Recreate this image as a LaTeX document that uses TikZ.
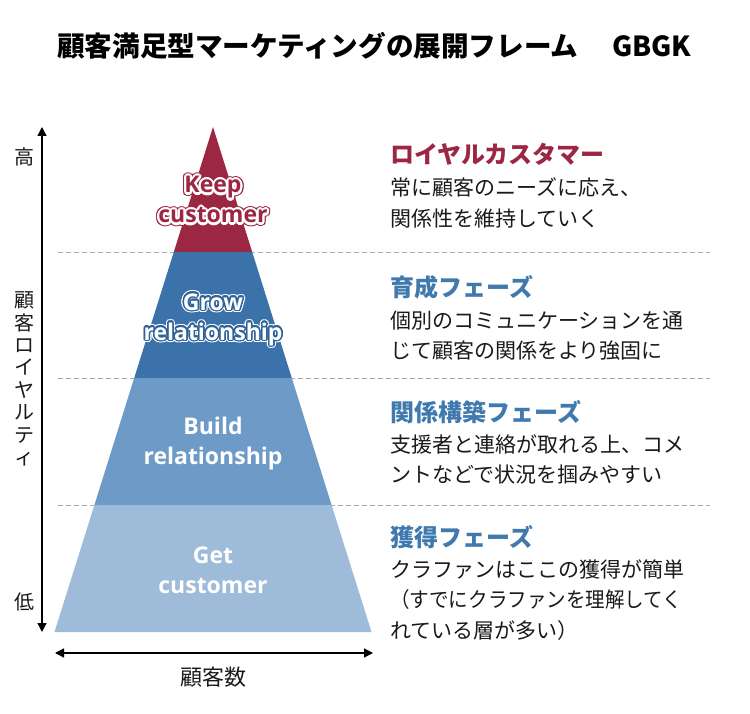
\documentclass[tikz,border=0pt]{standalone}
\usepackage{fontspec}
\setmainfont{Noto Sans CJK JP}
\newfontfamily\latfont{Open Sans}
\usetikzlibrary{arrows.meta}
\definecolor{kred}{HTML}{9C2743}
\definecolor{growblue}{HTML}{3B72AA}
\definecolor{growline}{HTML}{2F6299}
\definecolor{buildblue}{HTML}{6E9AC7}
\definecolor{getblue}{HTML}{9EBBD9}
\definecolor{headblue}{HTML}{3F79AD}
\definecolor{dashgray}{HTML}{ABABAB}
\definecolor{bodyblack}{HTML}{1A1A1A}
\tikzset{
  sepline/.style={draw=dashgray,line width=0.9pt,dash pattern=on 5pt off 3pt},
  axisline/.style={line width=1.3pt,{Triangle[length=9pt,width=9pt]}-{Triangle[length=9pt,width=9pt]}},
  plbl/.style={font=\latfont\bfseries\fontsize{23}{30}\selectfont,align=center,anchor=base,inner sep=0pt},
  headtxt/.style={font=\bfseries\fontsize{24}{30}\selectfont,anchor=base west,inner sep=0pt},
  bodytxt/.style={font=\fontsize{21}{30.5}\selectfont,align=left,anchor=base west,inner sep=0pt,text=bodyblack},
  sidetxt/.style={font=\fontsize{20}{22.4}\selectfont,align=center,inner sep=0pt,text=bodyblack},
  titletxt/.style={font=\bfseries\fontsize{27.6}{30}\selectfont,anchor=base west,inner sep=0pt},
}
\begin{document}
\begin{tikzpicture}[x=1pt,y=-1pt]
\useasboundingbox[fill=white] (0,0) rectangle (750,714);

% title
\node[titletxt] (title) at (57,57) {顧客満足型マーケティングの展開フレーム};
\node[titletxt] (gbgk) at (612,57) {GBGK};

% dashed separators
\draw[sepline] (58,252) -- (710,252);
\draw[sepline] (58,378) -- (710,378);
\draw[sepline] (58,505) -- (710,505);

% pyramid layers
\coordinate (apex) at (213,127);
\fill[kred] (apex) -- (252.2,252) -- (173.8,252) -- cycle;
\fill[growblue] (173.8,252) -- (252.2,252) -- (291.8,378) -- (134.2,378) -- cycle;
\fill[buildblue] (134.2,378) -- (291.8,378) -- (331.6,505) -- (94.4,505) -- cycle;
\fill[getblue] (94.4,505) -- (331.6,505) -- (371.5,632) -- (54.5,632) -- cycle;

% Keep customer (red text, white outline, red outer outline)
\foreach \a in {0,20,...,340}{
  \node[plbl,text=kred,shift={(\a:3.3pt)}] (ko\a) at (213,223) {Keep\\customer};
}
\foreach \a in {0,20,...,340}{
  \node[plbl,text=white,shift={(\a:2.1pt)}] (kw\a) at (213,223) {Keep\\customer};
  \node[plbl,text=white,shift={(\a:1.1pt)}] (kv\a) at (213,223) {Keep\\customer};
}
\node[plbl,text=kred] (keep) at (213,223) {Keep\\customer};

% Grow relationship (white text, blue outline, white outer outline)
\foreach \a in {0,20,...,340}{
  \node[plbl,text=white,shift={(\a:2.8pt)}] (go\a) at (213,340) {Grow\\relationship};
}
\foreach \a in {0,20,...,340}{
  \node[plbl,text=growline,shift={(\a:1.5pt)}] (gb\a) at (213,340) {Grow\\relationship};
}
\node[plbl,text=white] (grow) at (213,340) {Grow\\relationship};

\node[plbl,text=white] (build) at (213,464) {Build\\relationship};
\node[plbl,text=white] (get) at (213,593) {Get\\customer};

% axes
\coordinate (vtop) at (42,127);
\coordinate (vbot) at (42,632);
\draw[axisline] (vtop) -- (vbot);
\coordinate (hl) at (55,653);
\coordinate (hr) at (373,653);
\draw[axisline] (hl) -- (hr);

\node[sidetxt] (high) at (24,157) {高};
\node[sidetxt,anchor=base] (loyal) at (24,464.4) {顧\\客\\ロ\\イ\\ヤ\\ル\\テ\\ィ};
\node[sidetxt] (low) at (24,602) {低};
\node[sidetxt,font=\fontsize{22}{24}\selectfont] (count) at (213,677) {顧客数};

% right descriptions
\node[headtxt,text=kred] (h1) at (390,164) {ロイヤルカスタマー};
\node[bodytxt] (b1) at (390,226.5) {常に顧客のニーズに応え、\\関係性を維持していく};
\node[headtxt,text=headblue] (h2) at (390,296) {育成フェーズ};
\node[bodytxt] (b2) at (390,358.5) {個別のコミュニケーションを通\\じて顧客の関係をより強固に};
\node[headtxt,text=headblue] (h3) at (390,421) {関係構築フェーズ};
\node[bodytxt] (b3) at (390,482.5) {支援者と連絡が取れる上、コメ\\ントなどで状況を掴みやすい};
\node[headtxt,text=headblue] (h4) at (390,546) {獲得フェーズ};
\node[bodytxt] (b4) at (390,638) {クラファンはここの獲得が簡単\\\scalebox{0.93}[1]{（すでにクラファンを理解してく}\\れている層が多い）};
\end{tikzpicture}
\end{document}
